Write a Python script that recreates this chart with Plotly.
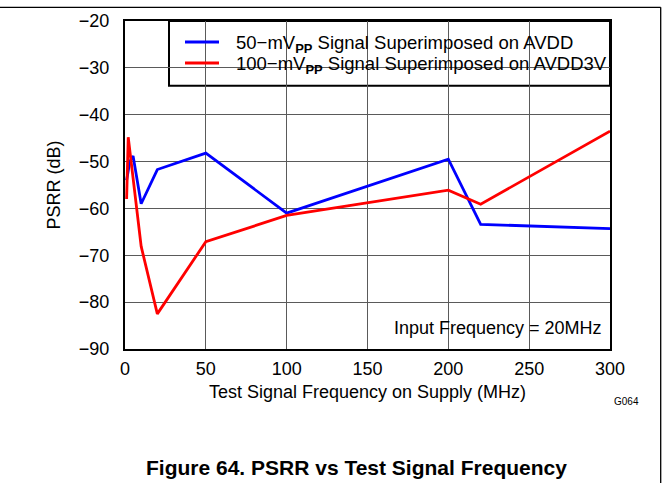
import plotly.graph_objects as go

# PSRR measurements (dB) versus frequency of the test signal on the supply (MHz)
avdd_freq = [1, 3, 5, 10, 20, 50, 100, 200, 220, 300]
avdd_psrr = [-54.0, -50.0, -48.8, -59.0, -51.7, -48.2, -61.0, -49.5, -63.4, -64.3]

avdd3v_freq = [1, 2, 10, 20, 50, 100, 200, 220, 300]
avdd3v_psrr = [-58.0, -44.8, -68.1, -82.5, -67.1, -61.5, -56.1, -59.1, -43.5]

series_names = [
    "50\u2212mV<sub><b>PP</b></sub> Signal Superimposed on AVDD",
    "100\u2212mV<sub><b>PP</b></sub> Signal Superimposed on AVDD3V",
]
series_colors = ["#0000FF", "#FF0000"]

x_ticks = [0, 50, 100, 150, 200, 250, 300]
y_ticks = [-90, -80, -70, -60, -50, -40, -30, -20]

FONT = "Liberation Sans, Arial, sans-serif"
W, H = 669, 483
ML, MR, MT, MB = 125, 59, 21, 134
PW, PH = W - ML - MR, H - MT - MB


def px_x(p):
    return (p - ML) / PW


def px_y(p):
    return (H - MB - p) / PH


fig = go.Figure()
fig.add_trace(go.Scatter(x=avdd_freq, y=avdd_psrr, mode="lines",
                         line=dict(color=series_colors[0], width=2.8),
                         name=series_names[0], showlegend=False))
fig.add_trace(go.Scatter(x=avdd3v_freq, y=avdd3v_psrr, mode="lines",
                         line=dict(color=series_colors[1], width=2.8),
                         name=series_names[1], showlegend=False))

shapes = []
annotations = []

# legend box in the top-right corner of the plot
shapes.append(dict(type="rect", xref="paper", yref="paper",
                   x0=px_x(169), x1=1, y0=px_y(85.7), y1=1,
                   fillcolor="white", line=dict(color="black", width=2),
                   layer="between"))
for i, (name, col) in enumerate(zip(series_names, series_colors)):
    yy = px_y(42 + 21 * i)
    shapes.append(dict(type="line", xref="paper", yref="paper",
                       x0=px_x(185), x1=px_x(219), y0=yy, y1=yy,
                       line=dict(color=col, width=2.8)))
    annotations.append(dict(xref="paper", yref="paper", x=px_x(234), y=px_y(44 + 21 * i),
                            xanchor="left", yanchor="middle", showarrow=False,
                            text=name, font=dict(family=FONT, size=18.5, color="black")))

# condition note in the bottom-right corner
shapes.append(dict(type="rect", xref="paper", yref="paper",
                   x0=px_x(385), x1=1, y0=0, y1=px_y(305),
                   fillcolor="white", line=dict(width=0), layer="between"))
annotations.append(dict(xref="paper", yref="paper", x=px_x(604), y=px_y(328),
                        xanchor="right", yanchor="middle", showarrow=False,
                        text="Input Frequency = 20MHz",
                        font=dict(family=FONT, size=18, color="black")))

# graph id and figure caption
annotations.append(dict(xref="paper", yref="paper", x=px_x(626), y=px_y(401),
                        xanchor="center", yanchor="middle", showarrow=False,
                        text="G064", font=dict(family=FONT, size=10, color="black")))
annotations.append(dict(xref="paper", yref="paper", x=px_x(356), y=px_y(467),
                        xanchor="center", yanchor="middle", showarrow=False,
                        text="<b>Figure 64. PSRR vs Test Signal Frequency</b>",
                        font=dict(family=FONT, size=21, color="black")))

# page frame lines
shapes.append(dict(type="line", xref="paper", yref="paper",
                   x0=px_x(0), x1=px_x(660.7), y0=px_y(7.3), y1=px_y(7.3),
                   line=dict(color="black", width=1.3)))
shapes.append(dict(type="line", xref="paper", yref="paper",
                   x0=px_x(660.7), x1=px_x(660.7), y0=px_y(7.3), y1=px_y(483),
                   line=dict(color="black", width=1.3)))

fig.update_layout(
    width=W, height=H,
    margin=dict(l=ML, r=MR, t=MT, b=MB),
    paper_bgcolor="white", plot_bgcolor="white",
    font=dict(family=FONT, size=18, color="black"),
    shapes=shapes, annotations=annotations,
    showlegend=False,
)
fig.update_xaxes(range=[0, 300], tickvals=x_ticks, showgrid=True,
                 gridcolor="#5a5a5a", gridwidth=1, zeroline=False,
                 showline=True, linecolor="black", linewidth=2, mirror=True,
                 ticks="", tickfont=dict(size=18), ticklabelstandoff=2,
                 title=dict(text="Test Signal Frequency on Supply (MHz)",
                            font=dict(size=18), standoff=8))
fig.update_yaxes(range=[-90, -20], tickvals=y_ticks, showgrid=True,
                 gridcolor="#5a5a5a", gridwidth=1, zeroline=False,
                 showline=True, linecolor="black", linewidth=2, mirror=True,
                 ticks="", tickfont=dict(size=18), ticklabelstandoff=10,
                 title=dict(text="PSRR (dB)", font=dict(size=18), standoff=14))

fig.write_html("out.html")
